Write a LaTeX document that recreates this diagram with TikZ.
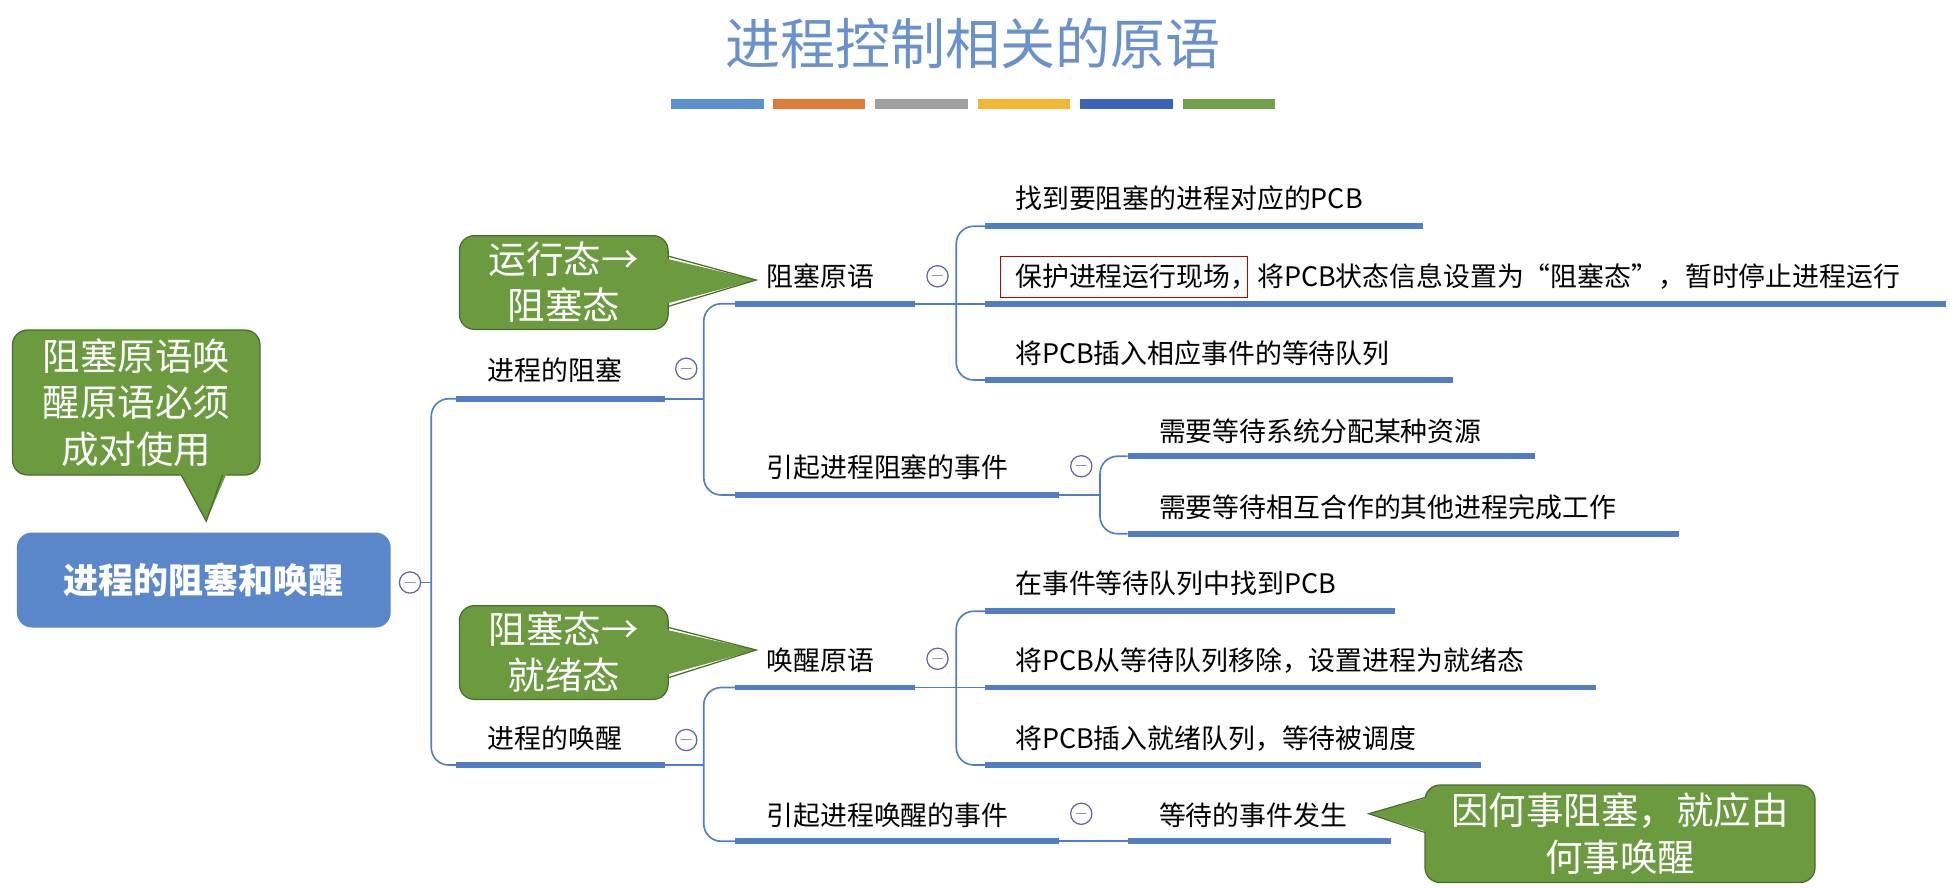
\documentclass[tikz,border=0pt]{standalone}
\usepackage{fontspec}
\setmainfont{Noto Sans CJK SC}
\begin{document}
\begin{tikzpicture}[x=1pt,y=-1pt,
  lb/.style={font=\fontsize{21.5}{24}\selectfont, anchor=base west, inner sep=0pt},
  ul/.style={line width=4.5pt, draw=ulc},
  cn/.style={line width=1.3pt, draw=ulc, rounded corners=14pt},
  mc/.style={circle, draw=gray!80!blue, line width=1pt, minimum size=17pt, inner sep=0pt, fill=white, font=\fontsize{14}{14}\selectfont, text=gray!80!blue},
  gb/.style={fill=cgreen, draw=cgreen!70!black, line width=1pt, rounded corners=12pt},
  gt/.style={text=white, font=\fontsize{30}{37}\selectfont, align=center, inner sep=0pt}]
\definecolor{ulc}{HTML}{4F7EC2}
\definecolor{cgreen}{HTML}{6B9A3F}
\definecolor{rootc}{HTML}{5A87C9}
\useasboundingbox (0,0) rectangle (1560,709.6);
\fill[white] (0,0) rectangle (1560,709.6);
% title
\node[text=ulc!85!white, font=\fontsize{44}{50}\selectfont] (title) at (778,35) {进程控制相关的原语};
\foreach \a/\c in {537/5B8FD0,618/E07B39,700/A0A0A0,782/F2B632,864/3D63B8,946/70A048}{
  \definecolor{tmp}{HTML}{\c}
  \fill[tmp] (\a,79) rectangle ++(74,8);}
% root
\node[fill=rootc, rounded corners=12pt, minimum width=299pt, minimum height=76pt, text=white, font=\bfseries\fontsize{28}{30}\selectfont] (root) at (163,464) {进程的阻塞和唤醒};
\node[mc] (m0) at (328,466) {$-$};
% level 1 underlines
\coordinate (b1s) at (365,319); \coordinate (b1e) at (532,319);
\coordinate (b2s) at (365,612); \coordinate (b2e) at (532,612);
\draw[ul] (b1s) -- (b1e); \draw[ul] (b2s) -- (b2e);
\node[lb] (t1) at (390,304) {进程的阻塞};
\node[lb] (t2) at (390,599) {进程的唤醒};
\draw[cn] (b1s) -- (345,319) -- (345,612) -- (b2s);
\draw[line width=1.3pt, draw=ulc] (m0) -- (345,466);
\node[mc] (m1) at (549,295) {$-$};
\node[mc] (m2) at (549,592) {$-$};
% level 2
\coordinate (c1s) at (588,243); \coordinate (c1e) at (732,243);
\coordinate (c2s) at (588,396); \coordinate (c2e) at (847,396);
\coordinate (c3s) at (588,550); \coordinate (c3e) at (732,550);
\coordinate (c4s) at (588,673); \coordinate (c4e) at (847,673);
\foreach \p in {c1,c2,c3,c4}{\draw[ul] (\p s) -- (\p e);}
\node[lb] (t11) at (613,229) {阻塞原语};
\node[lb] (t12) at (613,382) {引起进程阻塞的事件};
\node[lb] (t21) at (613,536) {唤醒原语};
\node[lb] (t22) at (613,660) {引起进程唤醒的事件};
\draw[cn] (c1s) -- (563,243) -- (563,396) -- (c2s);
\draw[line width=1.3pt, draw=ulc] (b1e) -- (563,319);
\draw[cn] (c3s) -- (563,550) -- (563,673) -- (c4s);
\draw[line width=1.3pt, draw=ulc] (b2e) -- (563,612);
\node[mc] (m11) at (750,221) {$-$};
\node[mc] (m12) at (865,373) {$-$};
\node[mc] (m21) at (750,527) {$-$};
\node[mc] (m22) at (865,651) {$-$};
% level 3 under 阻塞原语
\coordinate (d1s) at (788,181); \coordinate (d1e) at (1138,181);
\coordinate (d2s) at (788,243); \coordinate (d2e) at (1557,243);
\coordinate (d3s) at (788,304); \coordinate (d3e) at (1162,304);
\foreach \p in {d1,d2,d3}{\draw[ul] (\p s) -- (\p e);}
\node[lb] (t111) at (812,167) {找到要阻塞的进程对应的PCB};
\node[lb] (t112) at (812,229) {保护进程运行现场，将PCB状态信息设置为“阻塞态”，暂时停止进程运行};
\draw[red!75!black, line width=0.8pt] (800,205) rectangle (998,238);
\node[lb] (t113) at (812,291) {将PCB插入相应事件的等待队列};
\draw[cn] (d1s) -- (765,181) -- (765,304) -- (d3s);
\draw[line width=1.3pt, draw=ulc] (c1e) -- (d2s);
% under 引起进程阻塞的事件
\coordinate (e1s) at (902,365); \coordinate (e1e) at (1228,365);
\coordinate (e2s) at (902,427); \coordinate (e2e) at (1343,427);
\foreach \p in {e1,e2}{\draw[ul] (\p s) -- (\p e);}
\node[lb] (t121) at (927,353) {需要等待系统分配某种资源};
\node[lb] (t122) at (927,414) {需要等待相互合作的其他进程完成工作};
\draw[cn] (e1s) -- (880,365) -- (880,427) -- (e2s);
\draw[line width=1.3pt, draw=ulc] (c2e) -- (880,396);
% under 唤醒原语
\coordinate (f1s) at (788,489); \coordinate (f1e) at (1116,489);
\coordinate (f2s) at (788,550); \coordinate (f2e) at (1277,550);
\coordinate (f3s) at (788,612); \coordinate (f3e) at (1185,612);
\foreach \p in {f1,f2,f3}{\draw[ul] (\p s) -- (\p e);}
\node[lb] (t211) at (812,475) {在事件等待队列中找到PCB};
\node[lb] (t212) at (812,536) {将PCB从等待队列移除，设置进程为就绪态};
\node[lb] (t213) at (812,599) {将PCB插入就绪队列，等待被调度};
\draw[cn] (f1s) -- (765,489) -- (765,612) -- (f3s);
\draw[line width=1.3pt, draw=ulc] (c3e) -- (f2s);
% under 引起进程唤醒的事件
\coordinate (g1s) at (902,673); \coordinate (g1e) at (1113,673);
\draw[ul] (g1s) -- (g1e);
\node[lb] (t221) at (927,660) {等待的事件发生};
\draw[line width=1.3pt, draw=ulc] (c4e) -- (g1s);
% callouts
\node[gb, minimum width=167pt, minimum height=75pt] (k1) at (451,226) {};
\fill[cgreen] (525,205) -- (605,224) -- (525,245) -- cycle;
\draw[cgreen!70!black, line width=1pt] (535,205) -- (605,224) -- (535,245);
\node[gt] (k1t) at (451,226) {运行态→\\阻塞态};
\node[gb, minimum width=167pt, minimum height=75pt] (k2) at (451,522) {};
\fill[cgreen] (525,502) -- (605,520) -- (525,542) -- cycle;
\draw[cgreen!70!black, line width=1pt] (535,502) -- (605,520) -- (535,542);
\node[gt] (k2t) at (451,522) {阻塞态→\\就绪态};
\node[gb, minimum width=198pt, minimum height=116pt] (k3) at (109,322) {};
\fill[cgreen] (140,370) -- (165,417) -- (185,370) -- cycle;
\draw[cgreen!70!black, line width=1pt] (145,380) -- (165,417) -- (178,380);
\node[gt] (k3t) at (109,322) {阻塞原语唤\\醒原语必须\\成对使用};
\node[gb, minimum width=312pt, minimum height=78pt] (k4) at (1296,667) {};
\fill[cgreen] (1150,636) -- (1095,651) -- (1150,668) -- cycle;
\draw[cgreen!70!black, line width=1pt] (1140,638) -- (1095,651) -- (1140,666);
\node[gt] (k4t) at (1296,667) {因何事阻塞，就应由\\何事唤醒};
\end{tikzpicture}
\end{document}
